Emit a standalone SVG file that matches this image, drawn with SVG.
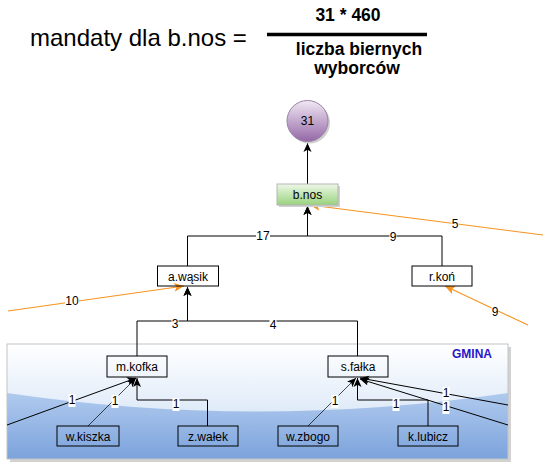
<svg xmlns="http://www.w3.org/2000/svg" width="552" height="470" viewBox="0 0 552 470">
<defs>
<linearGradient id="gTop" x1="0" y1="0" x2="0" y2="1">
<stop offset="0" stop-color="#ffffff"/><stop offset="1" stop-color="#c9dcf4"/>
</linearGradient>
<linearGradient id="gLow" x1="0" y1="0" x2="0" y2="1">
<stop offset="0" stop-color="#b0caee"/><stop offset="1" stop-color="#7ca3dc"/>
</linearGradient>
<linearGradient id="gGreen" x1="0" y1="0" x2="0" y2="1">
<stop offset="0" stop-color="#eef8e8"/><stop offset="1" stop-color="#98d27c"/>
</linearGradient>
<linearGradient id="gPurple" x1="0" y1="0" x2="0" y2="1">
<stop offset="0" stop-color="#f1e8f4"/><stop offset="1" stop-color="#9468a6"/>
</linearGradient>
<marker id="ab" viewBox="0 0 10 10" refX="10" refY="5" markerWidth="9" markerHeight="9" markerUnits="userSpaceOnUse" orient="auto">
<path d="M0,0.5 L10,5 L0,9.5 L2.5,5 z" fill="#000"/>
</marker>
<marker id="ao" viewBox="0 0 10 10" refX="10" refY="5" markerWidth="10" markerHeight="10" markerUnits="userSpaceOnUse" orient="auto">
<path d="M0,0.5 L10,5 L0,9.5 L2.5,5 z" fill="#f7931e"/>
</marker>
<style>
text{font-family:"Liberation Sans",Helvetica,Arial,sans-serif;}
.node{fill:none;stroke:#000;stroke-width:1;}
.nl{font-size:12px;text-anchor:middle;fill:#000;}
.e{fill:none;stroke:#000;stroke-width:1;marker-end:url(#ab);}
.et{fill:none;stroke:#000;stroke-width:0.7;marker-end:url(#ab);}
.eo{fill:none;stroke:#f7931e;stroke-width:1.1;marker-end:url(#ao);}
.lb{fill:#fff;}
.lt{font-size:12px;text-anchor:middle;fill:#000;}
.f{font-weight:bold;font-size:17.5px;text-anchor:middle;fill:#000;}
</style>
</defs>

<g id="formula">
<text x="30" y="46" font-size="24" fill="#000">mandaty dla b.nos =</text>
<text class="f" x="348" y="21">31 * 460</text>
<line x1="267" y1="34.5" x2="427" y2="34.5" stroke="#000" stroke-width="3.5"/>
<text class="f" x="359" y="55">liczba biernych</text>
<text class="f" x="357" y="74">wyborców</text>
</g>

<g id="gmina">
<rect x="10" y="347" width="501" height="115" fill="#d2d2d2"/>
<rect x="7" y="344" width="501" height="115" fill="url(#gTop)"/>
<path d="M7,393 Q257,430 508,393 L508,459 L7,459 Z" fill="url(#gLow)"/>
<rect x="7" y="344" width="501" height="115" fill="none" stroke="#c4c4c4" stroke-width="1"/>
<text x="452" y="358" font-size="12" font-weight="bold" fill="#2a16c8">GMINA</text>
</g>

<g id="connectors">
<path class="e" d="M307.5,184 L307.5,143"/>
<path class="e" d="M187.5,266 L187.5,236 L307.5,236 L307.5,206"/>
<path class="e" d="M442,266 L442,236 L307.5,236 L307.5,206"/>
<path class="e" d="M137,356 L137,321 L187.5,321 L187.5,287"/>
<path class="e" d="M357.5,356 L357.5,321 L187.5,321 L187.5,287"/>
<path class="et" d="M88,426 L136,378"/>
<path class="e" d="M207.5,426 L207.5,400 L137,400 L137,378"/>
<path class="e" d="M7,425 L136,378" stroke-width="1.3"/>
<path class="et" d="M308,426 L356,378"/>
<path class="e" d="M428,426 L428,400 L357.5,400 L357.5,378"/>
<path class="e" d="M508,405 L360,378"/>
<path class="e" d="M508,425 L360,379"/>
<path class="eo" d="M543,235 L310,205"/>
<path class="eo" d="M8,311 L184,286"/>
<path class="eo" d="M528,325 L445,286"/>

<rect class="lb" x="256" y="230" width="14" height="12"/><text class="lt" x="263" y="240">17</text>
<rect class="lb" x="389.5" y="231" width="7" height="12"/><text class="lt" x="393" y="241">9</text>
<rect class="lb" x="171.5" y="318" width="7" height="12"/><text class="lt" x="175" y="328">3</text>
<rect class="lb" x="269.5" y="319" width="7" height="12"/><text class="lt" x="273" y="329">4</text>
<rect class="lb" x="111.5" y="395" width="7" height="13"/><text class="lt" x="115" y="405">1</text>
<rect class="lb" x="172.5" y="398" width="7" height="13"/><text class="lt" x="176" y="408">1</text>
<rect class="lb" x="68.5" y="394" width="7" height="13"/><text class="lt" x="72" y="404">1</text>
<rect class="lb" x="331.5" y="395" width="7" height="13"/><text class="lt" x="335" y="405">1</text>
<rect class="lb" x="392.5" y="398" width="7" height="13"/><text class="lt" x="396" y="408">1</text>
<rect class="lb" x="442.5" y="387" width="7" height="13"/><text class="lt" x="446" y="397">1</text>
<rect class="lb" x="442.5" y="401" width="7" height="13"/><text class="lt" x="446" y="411">1</text>
<rect class="lb" x="451.5" y="218" width="7" height="12"/><text class="lt" x="455" y="228">5</text>
<rect class="lb" x="65" y="295" width="14" height="12"/><text class="lt" x="72" y="305">10</text>
<rect class="lb" x="491.5" y="306" width="7" height="12"/><text class="lt" x="495" y="316">9</text>
</g>

<g id="n31">
<circle cx="309.5" cy="123" r="20.5" fill="#cfcfcf"/>
<circle cx="307.5" cy="121" r="20.5" fill="url(#gPurple)" stroke="#9b82a8" stroke-width="1"/>
<text class="nl" x="307.5" y="125">31</text>
</g>

<g id="bnos">
<rect x="279" y="186" width="61" height="21" fill="#d0d0d0"/>
<rect x="277" y="184" width="61" height="21" fill="url(#gGreen)" stroke="#b5b5b5" stroke-width="1"/>
<text class="nl" x="307.5" y="199">b.nos</text>
</g>

<g id="awasik">
<rect class="node" x="157.5" y="266" width="61" height="20"/>
<text class="nl" x="188" y="280.5">a.wąsik</text>
</g>

<g id="rkon">
<rect class="node" x="412" y="266" width="60" height="20"/>
<text class="nl" x="442" y="280.5">r.koń</text>
</g>

<g id="mkofka">
<rect class="node" x="107" y="356" width="60" height="21"/>
<text class="nl" x="137" y="371">m.kofka</text>
</g>

<g id="sfalka">
<rect class="node" x="328" y="356" width="60" height="21"/>
<text class="nl" x="358" y="371">s.fałka</text>
</g>

<g id="wkiszka">
<rect class="node" x="57" y="426" width="62" height="20"/>
<text class="nl" x="88" y="440.5">w.kiszka</text>
</g>

<g id="zwalek">
<rect class="node" x="178" y="426" width="60" height="20"/>
<text class="nl" x="208" y="440.5">z.wałek</text>
</g>

<g id="wzbogo">
<rect class="node" x="278" y="426" width="60" height="20"/>
<text class="nl" x="308" y="440.5">w.zbogo</text>
</g>

<g id="klubicz">
<rect class="node" x="398" y="426" width="60" height="20"/>
<text class="nl" x="428" y="440.5">k.lubicz</text>
</g>
</svg>
